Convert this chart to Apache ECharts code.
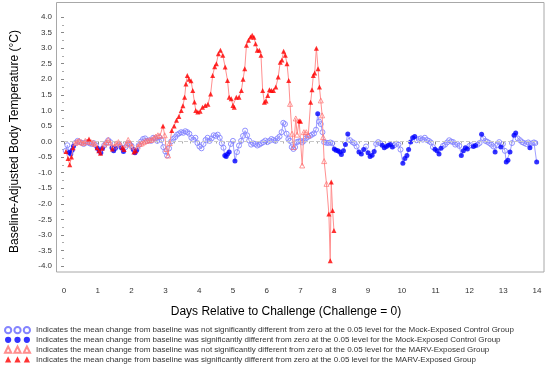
<!DOCTYPE html>
<html>
<head>
<meta charset="utf-8">
<script src="https://cdn.jsdelivr.net/npm/echarts@6/dist/echarts.min.js"></script>
<style>html,body{margin:0;padding:0;background:#fff;}#c{width:550px;height:366px;}</style>
</head>
<body>
<div id="c"></div>
<script>
// Mock-Exposed Control Group (blue circles); sig: 1 = significant (filled), 0 = not significant (open)
const blueDays = [0.05,0.1,0.15,0.2,0.24,0.28,0.33,0.4,0.46,0.52,0.58,0.64,0.7,0.76,0.82,0.88,0.94,0.99,1.04,1.09,1.14,1.19,1.25,1.31,1.37,1.42,1.47,1.52,1.58,1.64,1.7,1.76,1.82,1.88,1.94,2.0,2.05,2.1,2.15,2.21,2.28,2.34,2.4,2.46,2.52,2.58,2.64,2.7,2.76,2.82,2.88,2.94,3.0,3.05,3.11,3.17,3.23,3.29,3.35,3.41,3.47,3.53,3.59,3.65,3.71,3.77,3.83,3.89,3.95,4.01,4.07,4.13,4.19,4.25,4.31,4.37,4.43,4.49,4.55,4.61,4.67,4.72,4.76,4.8,4.84,4.89,4.94,5.0,5.06,5.12,5.18,5.24,5.3,5.36,5.42,5.48,5.54,5.6,5.66,5.72,5.78,5.84,5.9,5.96,6.02,6.08,6.14,6.2,6.26,6.32,6.38,6.44,6.49,6.54,6.59,6.64,6.69,6.74,6.79,6.84,6.89,6.94,7.0,7.05,7.1,7.16,7.22,7.28,7.34,7.4,7.46,7.51,7.55,7.6,7.65,7.7,7.76,7.82,7.88,7.94,8.0,8.05,8.11,8.16,8.21,8.27,8.33,8.4,8.47,8.54,8.6,8.66,8.73,8.8,8.87,8.94,9.0,9.06,9.12,9.18,9.24,9.3,9.36,9.42,9.48,9.54,9.6,9.66,9.72,9.78,9.84,9.9,9.96,10.03,10.09,10.15,10.2,10.26,10.32,10.38,10.44,10.5,10.56,10.62,10.68,10.74,10.8,10.86,10.92,10.98,11.04,11.1,11.16,11.22,11.28,11.34,11.4,11.46,11.52,11.58,11.64,11.7,11.76,11.82,11.88,11.94,12.0,12.06,12.12,12.18,12.24,12.3,12.36,12.41,12.47,12.53,12.59,12.65,12.71,12.76,12.82,12.88,12.93,12.99,13.05,13.09,13.14,13.2,13.26,13.32,13.37,13.43,13.5,13.56,13.62,13.68,13.74,13.79,13.85,13.91,13.95,13.99];
const blueVals = [-0.3,-0.12,-0.35,-0.4,-0.28,-0.15,-0.05,0.02,-0.02,-0.04,-0.08,-0.04,-0.02,-0.06,-0.08,-0.05,-0.12,-0.22,-0.3,-0.36,-0.22,-0.12,-0.05,0.04,-0.02,-0.2,-0.3,-0.22,-0.14,-0.1,-0.2,-0.32,-0.18,-0.06,-0.08,-0.14,-0.26,-0.36,-0.28,-0.12,0.0,0.08,0.1,0.02,0.04,0.02,0.12,0.1,0.02,0.14,0.05,-0.18,-0.32,-0.45,-0.22,0.0,0.08,0.14,0.22,0.26,0.3,0.28,0.33,0.3,0.25,0.12,0.06,0.12,-0.05,-0.16,-0.22,-0.08,0.05,0.12,0.02,0.1,0.2,0.18,0.22,0.12,-0.06,-0.2,-0.45,-0.48,-0.4,-0.34,-0.08,0.02,-0.63,-0.34,-0.13,0.02,0.18,0.35,0.2,0.03,-0.1,-0.06,-0.08,-0.13,-0.1,-0.06,-0.02,0.03,-0.02,0.02,0.08,0.05,0.02,0.1,0.16,0.3,0.6,0.56,0.25,0.08,0.02,-0.18,-0.24,-0.18,-0.02,0.0,0.02,-0.03,0.02,0.1,0.15,0.18,0.22,0.26,0.38,0.89,0.64,0.56,0.3,-0.02,-0.04,-0.05,-0.03,-0.06,-0.24,-0.28,-0.3,-0.34,-0.42,-0.3,-0.1,0.24,0.04,-0.02,-0.06,-0.16,-0.34,-0.4,-0.26,-0.16,-0.36,-0.48,-0.44,-0.32,-0.08,-0.02,-0.06,-0.12,-0.2,-0.16,-0.12,-0.1,-0.18,-0.12,-0.07,-0.1,-0.26,-0.7,-0.55,-0.45,-0.26,-0.02,0.12,0.16,0.04,0.08,0.1,0.06,0.12,0.05,0.02,-0.03,-0.18,-0.25,-0.3,-0.4,-0.22,-0.14,-0.1,-0.03,0.04,0.0,-0.02,-0.1,-0.08,-0.14,-0.45,-0.3,-0.2,-0.24,-0.14,-0.12,-0.16,-0.13,-0.1,-0.05,0.23,0.1,0.02,-0.01,-0.05,-0.1,-0.16,-0.34,-0.12,-0.02,-0.18,-0.08,-0.3,-0.66,-0.6,-0.34,-0.05,0.2,0.27,0.1,0.04,-0.02,-0.05,-0.08,-0.03,-0.2,-0.06,-0.03,-0.05,-0.66];
const blueSig = [0,0,1,1,1,1,0,0,0,0,0,0,0,0,0,0,0,1,1,1,1,0,0,0,0,1,1,1,0,0,1,1,0,0,0,0,1,1,1,0,0,0,0,0,0,0,0,0,0,0,0,0,0,0,0,0,0,0,0,0,0,0,0,0,0,0,0,0,0,0,0,0,0,0,0,0,0,0,0,0,0,0,1,1,1,1,0,0,1,0,0,0,0,0,0,0,0,0,0,0,0,0,0,0,0,0,0,0,0,0,0,0,0,0,0,0,0,0,0,0,0,0,0,0,0,0,0,0,0,0,0,1,0,0,0,0,0,0,0,0,1,1,1,1,1,1,1,1,0,0,0,0,1,1,1,0,1,1,1,1,0,0,0,1,1,1,1,1,1,0,0,0,0,1,1,1,1,1,1,1,0,0,0,0,0,0,0,0,0,1,1,1,1,0,0,0,0,0,0,0,0,0,1,1,1,1,0,0,1,1,0,0,1,0,0,0,0,0,0,1,0,0,1,0,0,1,1,1,0,1,1,0,0,0,0,0,0,1,0,0,0,1];

// MARV-Exposed Group (red triangles)
const redDays = [0.06,0.12,0.17,0.22,0.27,0.33,0.39,0.45,0.51,0.57,0.63,0.69,0.74,0.8,0.86,0.92,0.98,1.03,1.08,1.13,1.19,1.25,1.31,1.37,1.43,1.49,1.55,1.61,1.67,1.73,1.78,1.84,1.9,1.96,2.02,2.07,2.12,2.18,2.24,2.3,2.36,2.42,2.48,2.54,2.6,2.66,2.72,2.78,2.84,2.93,2.98,3.03,3.08,3.13,3.19,3.26,3.33,3.4,3.47,3.52,3.57,3.61,3.65,3.7,3.76,3.81,3.86,3.9,3.96,4.03,4.1,4.18,4.26,4.34,4.4,4.46,4.51,4.57,4.63,4.7,4.77,4.84,4.89,4.95,5.0,5.04,5.1,5.18,5.25,5.3,5.35,5.4,5.46,5.52,5.57,5.62,5.67,5.72,5.78,5.83,5.88,5.93,5.98,6.03,6.08,6.14,6.2,6.27,6.34,6.4,6.45,6.5,6.55,6.6,6.65,6.69,6.75,6.8,6.86,6.9,6.96,7.0,7.05,7.1,7.17,7.23,7.3,7.34,7.38,7.42,7.47,7.52,7.56,7.6,7.64,7.67,7.7,7.77,7.84,7.88,7.91,7.95,7.99];
const redVals = [-0.32,-0.55,-0.75,-0.5,-0.2,-0.05,0.0,0.03,-0.02,-0.05,0.02,0.0,0.08,-0.02,-0.04,-0.08,-0.2,-0.3,-0.38,-0.22,-0.1,-0.02,0.05,-0.04,-0.24,-0.16,-0.06,-0.02,-0.1,-0.2,-0.26,-0.1,0.05,-0.05,-0.16,-0.34,-0.3,-0.16,-0.08,-0.06,-0.02,0.02,0.03,0.05,0.06,0.12,0.16,0.2,0.18,0.5,0.2,-0.24,-0.45,-0.05,0.35,0.5,0.68,0.8,1.0,1.15,1.42,1.85,2.12,2.0,1.95,1.64,1.27,1.0,0.95,0.97,1.1,1.16,1.2,1.53,2.12,2.4,2.5,2.82,2.93,2.77,2.39,1.96,1.42,1.37,1.16,1.1,1.42,1.42,1.64,2.0,2.34,3.09,3.25,3.36,3.41,3.35,3.14,2.93,2.93,2.77,1.64,1.26,1.3,1.48,1.66,1.64,1.64,1.75,2.07,2.55,2.62,2.9,2.77,2.5,1.96,1.21,0.25,-0.18,0.74,0.22,0.67,0.65,-0.77,0.3,0.3,0.2,1.26,1.66,2.12,2.2,3.0,2.34,1.75,1.32,0.84,0.14,-0.63,-1.36,-2.33,-3.83,-1.3,-2.22,-2.86];
const redSig = [1,1,1,1,1,0,0,0,0,0,0,0,1,0,0,0,1,1,1,1,0,0,0,0,1,0,0,0,0,1,1,0,0,0,0,1,1,0,0,0,0,0,0,0,0,0,0,0,0,1,0,0,0,0,1,1,1,1,1,1,1,1,1,1,1,1,1,1,1,1,1,1,1,1,1,1,1,1,1,1,1,1,1,1,1,1,1,1,1,1,1,1,1,1,1,1,1,1,1,1,1,1,1,1,1,1,1,1,1,1,1,1,1,1,1,0,0,0,0,0,1,1,0,0,0,0,1,1,1,1,1,1,1,0,0,0,0,0,1,1,1,1,1];

const xTicks = [0,1,2,3,4,5,6,7,8,9,10,11,12,13,14];
const yTicks = ['-4.0','-3.5','-3.0','-2.5','-2.0','-1.5','-1.0','-0.5','0.0','0.5','1.0','1.5','2.0','2.5','3.0','3.5','4.0'];

const legendNames = [
  'Indicates the mean change from baseline was not significantly different from zero at the 0.05 level for the Mock-Exposed Control Group',
  'Indicates the mean change from baseline was significantly different from zero at the 0.05 level for the Mock-Exposed Control Group',
  'Indicates the mean change from baseline was not significantly different from zero at the 0.05 level for the MARV-Exposed Group',
  'Indicates the mean change from baseline was significantly different from zero at the 0.05 level for the MARV-Exposed Group'
];

function pts(days, vals) { return days.map((d, i) => [d, vals[i]]); }
function pick(days, vals, sig, s) { return days.map((d, i) => [d, vals[i], sig[i]]).filter(p => p[2] === s).map(p => [p[0], p[1]]); }

const circles3 = 'path://M1,4A3,3 0 1,1 7,4A3,3 0 1,1 1,4Z M10,4A3,3 0 1,1 16,4A3,3 0 1,1 10,4Z M19,4A3,3 0 1,1 25,4A3,3 0 1,1 19,4Z';
const tris3 = 'path://M4,1L7,7L1,7Z M13,1L16,7L10,7Z M22,1L25,7L19,7Z';

const FONT = 'Liberation Sans, Arial, sans-serif';
const chart = echarts.init(document.getElementById('c'), null, {renderer: 'canvas'});
chart.setOption({
  animation: false,
  backgroundColor: '#fff',
  textStyle: {fontFamily: FONT},
  graphic: [{
    type: 'rect', silent: true, z: 0,
    shape: {x: 56.5, y: 2.5, width: 487.5, height: 269.5},
    style: {fill: 'none', stroke: '#a8a8a8', lineWidth: 1}
  }],
  grid: {left: 64, right: 13, top: 17, bottom: 100, containLabel: false},
  xAxis: {
    type: 'value', min: 0, max: 14, interval: 1, offset: 14,
    name: 'Days Relative to Challenge (Challenge = 0)', nameLocation: 'middle', nameGap: 26,
    nameTextStyle: {fontSize: 12, color: '#000', fontFamily: FONT, padding: [0, 29, 0, 0]},
    axisLine: {show: false},
    axisTick: {show: true, length: 3, lineStyle: {color: '#888'}},
    minorTick: {show: true, splitNumber: 4, length: 2, lineStyle: {color: '#aaa'}},
    axisLabel: {fontSize: 8, color: '#333', margin: 7, formatter: v => String(xTicks[Math.round(v)])},
    splitLine: {show: false}
  },
  yAxis: {
    type: 'value', min: -4, max: 4, interval: 0.5, offset: 7,
    name: 'Baseline-Adjusted Body Temperature (\u00B0C)', nameLocation: 'middle', nameGap: 36,
    nameTextStyle: {fontSize: 12, color: '#000', fontFamily: FONT},
    axisLine: {show: false},
    axisTick: {show: true, length: 3, lineStyle: {color: '#888'}},
    minorTick: {show: true, splitNumber: 2, length: 2, lineStyle: {color: '#aaa'}},
    axisLabel: {fontSize: 8, color: '#333', margin: 5, formatter: v => yTicks[Math.round((v + 4) * 2)]},
    splitLine: {show: false}
  },
  legend: {
    orient: 'vertical', left: 4, top: 326, width: 540, height: 80, padding: 0,
    itemWidth: 25, itemHeight: 7, itemGap: 1.6,
    textStyle: {fontSize: 8, color: '#333', fontFamily: FONT, padding: [0, 0, 0, 1]},
    selectedMode: false,
    data: [
      {name: legendNames[0], icon: circles3},
      {name: legendNames[1], icon: circles3},
      {name: legendNames[2], icon: tris3},
      {name: legendNames[3], icon: tris3}
    ]
  },
  series: [
    {
      name: 'Mock line', type: 'line', data: pts(blueDays, blueVals), showSymbol: false, z: 2,
      lineStyle: {color: '#a0a0ff', width: 1}, itemStyle: {color: '#a0a0ff'},
      markLine: {silent: true, symbol: 'none', label: {show: false},
        lineStyle: {color: '#c8c8c8', type: 'dashed', width: 1}, data: [{yAxis: 0}]}
    },
    {
      name: legendNames[0], type: 'scatter', data: pick(blueDays, blueVals, blueSig, 0), z: 3,
      symbol: 'circle', symbolSize: 5,
      itemStyle: {color: 'rgba(255,255,255,0)', borderColor: '#8484ff', borderWidth: 0.9, opacity: 1}
    },
    {
      name: legendNames[1], type: 'scatter', data: pick(blueDays, blueVals, blueSig, 1), z: 4,
      symbol: 'circle', symbolSize: 5,
      itemStyle: {color: '#0000ff'}
    },
    {
      name: 'MARV line', type: 'line', data: pts(redDays, redVals), showSymbol: false, z: 5,
      lineStyle: {color: '#ff9090', width: 1}, itemStyle: {color: '#ff9090'}
    },
    {
      name: legendNames[2], type: 'scatter', data: pick(redDays, redVals, redSig, 0), z: 6,
      symbol: 'triangle', symbolSize: 5,
      itemStyle: {color: 'rgba(255,255,255,0)', borderColor: '#ff7070', borderWidth: 0.9}
    },
    {
      name: legendNames[3], type: 'scatter', data: pick(redDays, redVals, redSig, 1), z: 7,
      symbol: 'triangle', symbolSize: 5,
      itemStyle: {color: '#ff0000'}
    }
  ]
});
</script>
</body>
</html>
